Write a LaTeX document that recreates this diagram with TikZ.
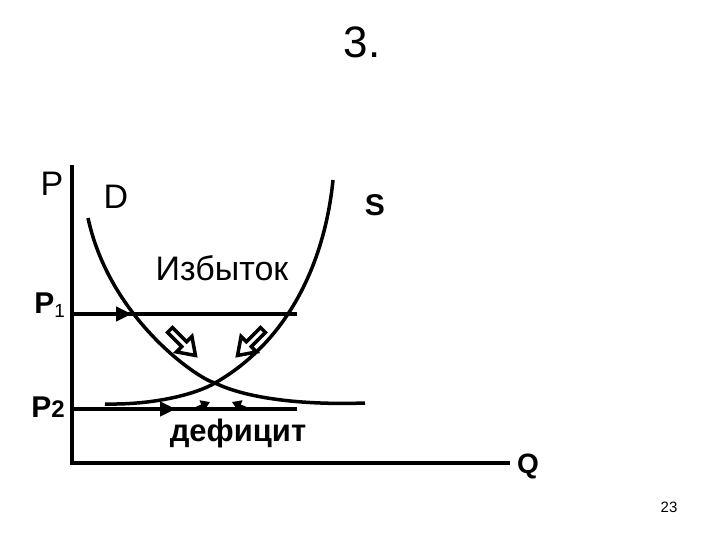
\documentclass[tikz,border=0pt]{standalone}
\usepackage{fontspec}
\setmainfont{Liberation Sans}
\usetikzlibrary{arrows.meta}
\begin{document}
\begin{tikzpicture}[x=1pt,y=-1pt,
  ax/.style={line width=4pt},
  crv/.style={line width=3.5pt},
  lvl/.style={line width=4pt},
  hol/.style={draw,line width=3.5pt,fill=white,line join=miter},
  sm/.style={line width=2.5pt,-{Triangle[length=9pt,width=11pt]}},
  lbl/.style={inner sep=0pt,font=\fontsize{34}{38}\selectfont}]
\useasboundingbox (0,0) rectangle (720,540);
\coordinate (o) at (72,463);
\coordinate (ytop) at (72,165);
\coordinate (xend) at (510,463);
\draw[ax] (ytop) -- (o) -- (xend);
\coordinate (p1a) at (72,314); \coordinate (p1b) at (297,314);
\coordinate (p2a) at (72,409); \coordinate (p2b) at (297,409);
\draw[lvl,-{Triangle[length=16pt,width=14pt]}] (p1a) -- (132,314);
\draw[lvl] (p1a) -- (p1b);
\draw[lvl,-{Triangle[length=16pt,width=14pt]}] (p2a) -- (176,409);
\draw[lvl] (p2a) -- (p2b);
\coordinate (d0) at (88,218); \coordinate (e) at (215,383); \coordinate (d1) at (365,403);
\draw[crv] (d0) .. controls (110,320) and (200,380) .. (e) .. controls (250,400) and (310,405) .. (d1);
\coordinate (s0) at (105,404); \coordinate (s1) at (333,180);
\draw[crv] (s0) .. controls (160,405) and (200,392) .. (e) .. controls (290,340) and (325,260) .. (s1);
\path[hol,shift={(170,330)},rotate=-45] (0,-3.5) -- (20,-3.5) -- (20,-11) -- (36,0) -- (20,11) -- (20,3.5) -- (0,3.5) -- cycle;
\path[hol,shift={(263,330)},rotate=-135] (0,-3.5) -- (20,-3.5) -- (20,-11) -- (36,0) -- (20,11) -- (20,3.5) -- (0,3.5) -- cycle;
\draw[sm] (194,409) -- (210,402);
\draw[sm] (248,409) -- (232,402);
\node[lbl,font=\fontsize{44}{48}\selectfont] (t) at (362,42) {3.};
\node[lbl] (P) at (52,184) {P};
\node[lbl] (D) at (116,197) {D};
\node[lbl,font=\fontsize{30}{34}\bfseries] (S) at (375,205) {S};
\node[lbl] (izb) at (222,268) {Избыток};
\node[lbl,font=\fontsize{30}{34}\bfseries] (P1) at (50,305) {P\textsubscript{\normalfont\fontsize{19}{22}\selectfont 1}};
\node[lbl,font=\fontsize{30}{34}\bfseries] (P2) at (48,407) {P\fontsize{24}{26}\selectfont2};
\node[lbl,font=\fontsize{31}{34}\bfseries] (def) at (238,433) {дефицит};
\node[lbl,font=\fontsize{28}{32}\bfseries] (Q) at (528,466) {Q};
\node[lbl,font=\fontsize{15}{17}\selectfont] (n) at (669,507) {23};
\end{tikzpicture}
\end{document}
